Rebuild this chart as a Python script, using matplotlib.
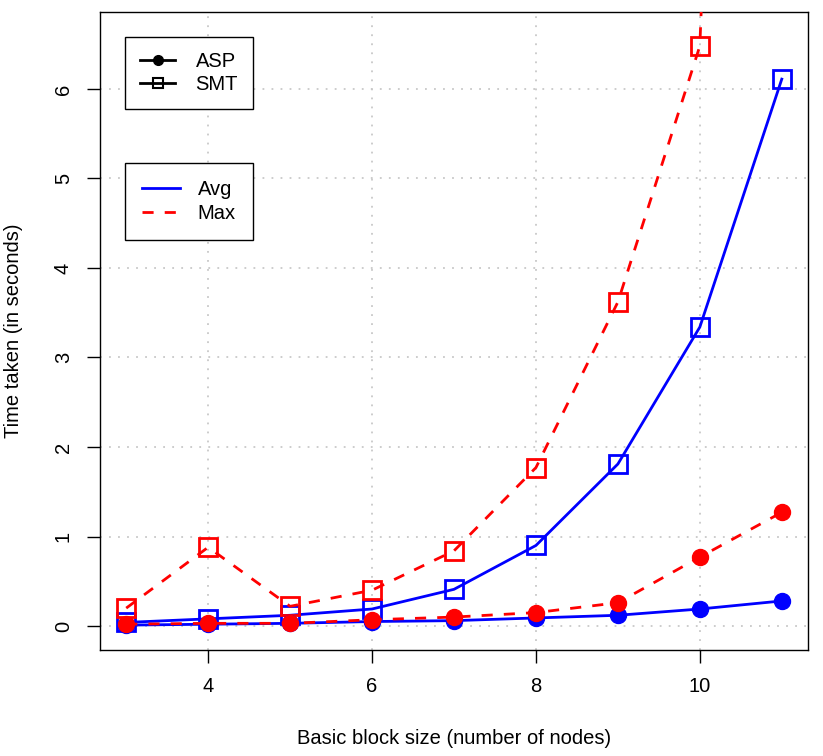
import numpy as np
import matplotlib
matplotlib.use("Agg")
import matplotlib.pyplot as plt
from matplotlib.lines import Line2D

plt.rcParams['font.family'] = ['Liberation Sans', 'DejaVu Sans']

# data (seconds), block sizes 3..11
sizes = [3, 4, 5, 6, 7, 8, 9, 10, 11]
asp_avg = [0.01, 0.02, 0.03, 0.05, 0.06, 0.09, 0.12, 0.19, 0.28]
asp_max = [0.02, 0.03, 0.03, 0.07, 0.10, 0.15, 0.26, 0.77, 1.27]
smt_avg = [0.04, 0.08, 0.12, 0.19, 0.41, 0.90, 1.81, 3.34, 6.11]
smt_max = [0.20, 0.88, 0.22, 0.40, 0.84, 1.77, 3.62, 6.48, 30.0]

fs = 14.5
fig = plt.figure(figsize=(8.23, 7.56), dpi=100)
ax = fig.add_axes([100 / 823, 106 / 756, 708 / 823, 638 / 756])

lw = 2.0
dash = (0, (4, 4))
# solid = avg, dashed = max ; circles = ASP, squares = SMT
ax.plot(sizes, smt_avg, color='blue', lw=lw, marker='s', ms=13,
        mfc='none', mec='blue', mew=2.0, zorder=3)
ax.plot(sizes, smt_max, color='red', lw=lw, ls=dash, marker='s', ms=13,
        mfc='none', mec='red', mew=2.0, zorder=3)
ax.plot(sizes, asp_avg, color='blue', lw=lw, marker='o', ms=11.5,
        mfc='blue', mec='blue', zorder=3)
ax.plot(sizes, asp_max, color='red', lw=lw, ls=dash, marker='o', ms=11.5,
        mfc='red', mec='red', zorder=4)

ax.set_xlim(2.68, 11.32)
ax.set_ylim(-0.268, 6.86)
ax.set_xticks([4, 6, 8, 10])
ax.set_yticks(range(0, 7))
ax.grid(True, color='#c8c8c8', ls=(0, (1, 4)), lw=1.3)
ax.set_axisbelow(True)

for s in ax.spines.values():
    s.set_linewidth(1.0)
ax.tick_params(direction='out', length=9.5, width=1, labelsize=fs, pad=10)
for lab in ax.get_yticklabels():
    lab.set_rotation(90)
    lab.set_va('center')

ax.set_xlabel('Basic block size (number of nodes)', fontsize=fs, labelpad=24)
ax.set_ylabel('Time taken (in seconds)', fontsize=fs, labelpad=22)

h1 = [Line2D([], [], color='black', lw=lw, marker='o', ms=7),
      Line2D([], [], color='black', lw=lw, marker='s', ms=7, mfc='none', mew=1.5)]
leg1 = ax.legend(h1, ['ASP', 'SMT'], loc='upper left', bbox_to_anchor=(0.0353, 0.9607),
                 borderaxespad=0, fontsize=fs, frameon=True, fancybox=False,
                 edgecolor='black', framealpha=1, handlelength=1.75, handletextpad=1.0,
                 borderpad=0.75, labelspacing=0.2)
leg1.get_frame().set_linewidth(1.0)
ax.add_artist(leg1)

h2 = [Line2D([], [], color='blue', lw=lw),
      Line2D([], [], color='red', lw=lw, ls=dash)]
leg2 = ax.legend(h2, ['Avg', 'Max'], loc='upper left', bbox_to_anchor=(0.0353, 0.764),
                 borderaxespad=0, fontsize=fs, frameon=True, fancybox=False,
                 edgecolor='black', framealpha=1, handlelength=1.9, handletextpad=0.85,
                 borderpad=0.85, labelspacing=0.25)
leg2.get_frame().set_linewidth(1.0)

fig.savefig('out.png', dpi=100)
